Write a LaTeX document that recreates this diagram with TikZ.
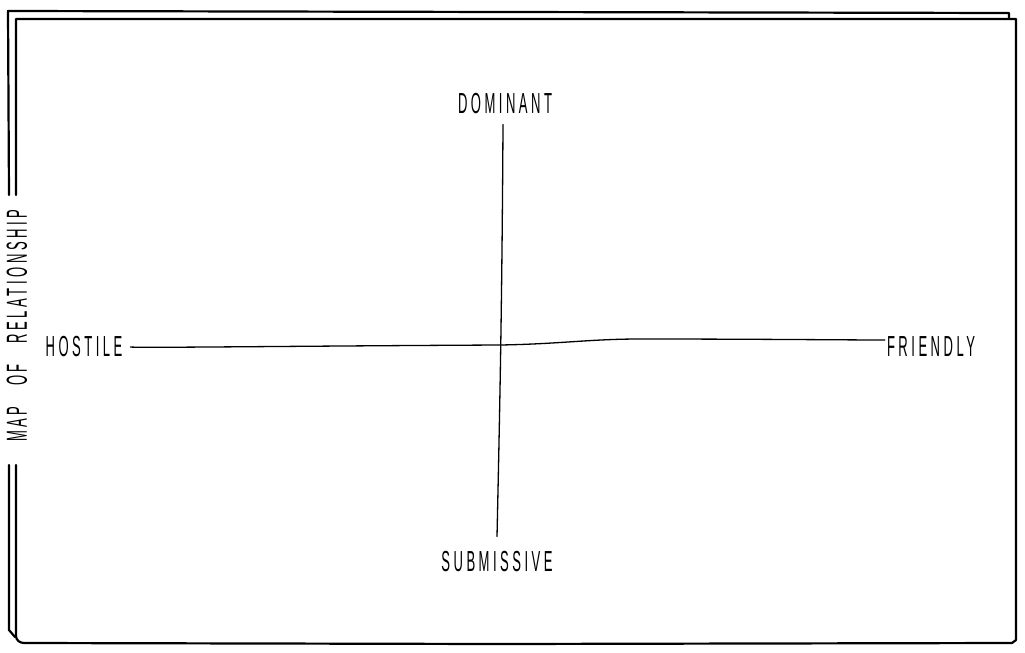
\documentclass[tikz,border=0pt]{standalone}
\usepackage{fontspec}
\newfontfamily\hand[FakeStretch=0.45,LetterSpace=12]{Liberation Sans}
\begin{document}
\begin{tikzpicture}[x=1pt,y=-1pt,
  frame/.style={line width=2.2pt,line join=round,line cap=round},
  axis/.style={line width=1.3pt,line cap=round},
  lbl/.style={font=\hand\fontsize{29}{29}\selectfont,inner sep=2pt}]
\useasboundingbox (0,0) rectangle (1025,653);
% frame: outer line
\draw[frame] (9,195) -- (8,11) -- (1009,13) -- (1009,19);
\draw[frame] (9,465) -- (9,630) -- (15,637);
% frame: inner line
\draw[frame] (16,195) -- (16,19) -- (600,19) -- (1016,19) -- (1016,640) -- (1012,643)
  -- (500,644) -- (24,643) to[out=180,in=-90] (16,636) -- (16,465);
% title
\node[lbl,rotate=90] (title) at (17,326) {MAP\hspace{21pt}OF\hspace{21pt}RELATIONSHIP};
% labels
\node[lbl] (dom) at (505,104) {DOMINANT};
\node[lbl] (sub) at (497,562) {SUBMISSIVE};
\node[lbl] (hos) at (84,347) {HOSTILE};
\node[lbl] (fri) at (931,347) {FRIENDLY};
% axes
\draw[axis] (dom.south) ++(-2,8) coordinate (vt);
\draw[axis] (sub.north) ++(0,-13) coordinate (vb);
\draw[axis] (vt) .. controls (502,300) and (500,400) .. (vb);
\draw[axis] (hos.east) ++(6,0) coordinate (hl);
\draw[axis] (fri.west) ++(0,-7) coordinate (hr);
\draw[axis] (hl) .. controls (140,348) and (300,346) .. (500,345)
  .. controls (560,344) and (590,339) .. (640,339) .. controls (750,339) and (850,340) .. (hr);
\end{tikzpicture}
\end{document}
